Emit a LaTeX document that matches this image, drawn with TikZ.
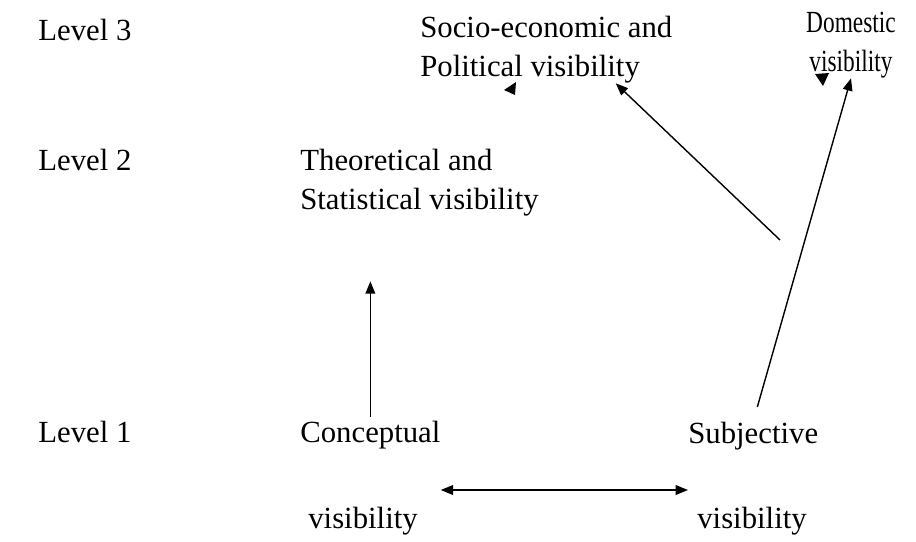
\documentclass[tikz,border=0pt]{standalone}
\usepackage{fontspec}
\setmainfont{Liberation Serif}
\usepackage{graphicx}
\usepackage{tikz}
\usetikzlibrary{arrows.meta,calc}
\tikzset{
  LV/.style={anchor=base west,inner sep=0pt,font=\fontsize{17.5}{22}\selectfont},
  TX/.style={anchor=base west,inner sep=0pt,font=\fontsize{17.5}{22}\selectfont},
  TT/.style={anchor=north west,inner sep=0pt,align=left,font=\fontsize{17.5}{22}\selectfont},
  arr/.style={-{Triangle[length=7pt,width=5.5pt]},line width=0.8pt},
  arrB/.style={{Triangle[length=7pt,width=5.5pt]}-{Triangle[length=7pt,width=5.5pt]},line width=0.8pt}
}
\newcommand{\narrow}[1]{\scalebox{0.76}[1]{#1}}

\begin{document}
\begin{tikzpicture}[x=0.02cm,y=-0.02cm]
  \useasboundingbox (0,0) rectangle (916,541);
  % level labels
  \node[LV] (lv3) at (38,40) {Level 3};
  \node[LV] (lv2) at (38,170) {Level 2};
  \node[LV] (lv1) at (38,442) {Level 1};

  % visibility nodes
  \node[TT] (socio) at (420,16) {Socio-economic and\\Political visibility};
  \node[TT,anchor=north,align=center] (dom) at (851,12) {\narrow{Domestic}\\\narrow{visibility}};
  \node[TT] (theo) at (300,149) {Theoretical and\\Statistical visibility};
  \node[TX] (conc) at (300,442) {Conceptual};
  \node[TX] (cvis) at (308,528) {visibility};
  \node[TX] (subj) at (688,443) {Subjective};
  \node[TX] (svis) at (697,528) {visibility};

  \coordinate (mid) at (0,490);
  \coordinate (sfree) at (780,240);

  \draw[arr,shorten <=2pt,shorten >=1.3cm] (conc.north) -- (conc.north |- theo.south);
  \draw[arrB] (conc.east |- mid) -- (subj.west |- mid);
  \draw[arr,shorten <=0.3cm] (subj.north) -- (dom.south);
  \draw[arr] (sfree) -- ($(socio.south)!0.55!(socio.south east)$);

  % loose heads
  \fill (504,90) -- (516,82) -- (515,95) -- cycle;
  \fill (823,86) -- (815,74) -- (829,73) -- cycle;
\end{tikzpicture}
\end{document}
